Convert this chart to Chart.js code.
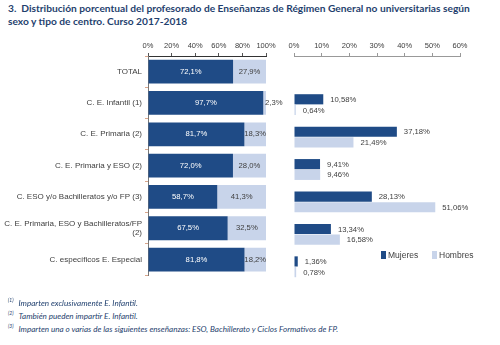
<!DOCTYPE html>
<html>
<head>
<meta charset="utf-8">
<script src="https://cdn.jsdelivr.net/npm/chart.js@4"></script>
<style>
  body { margin: 0; background: #fff; }
  #wrap { position: relative; width: 500px; height: 345px; overflow: hidden; }
  .title { position: absolute; left: 8px; top: 2px; font: bold 10.2px Lato, sans-serif; color: #1f3f6e; line-height: 13px; white-space: nowrap; }
  .note { position: absolute; left: 8px; font: italic 8.1px Lato, sans-serif; color: #1f3f6e; white-space: nowrap; }
  .note sup { font-size: 5px; margin-right: 5px; }
  .legend { position: absolute; top: 250px; font: 8.5px "Liberation Sans", Arial, sans-serif; color: #404040; }
  .sw { display: inline-block; width: 5px; height: 8px; margin-right: 2px; vertical-align: -1px; }
  canvas { position: absolute; }
</style>
</head>
<body>
<div id="wrap">
  <div class="title">3.&nbsp; Distribución porcentual del profesorado de Enseñanzas de Régimen General no universitarias según<br>sexo y tipo de centro. Curso 2017-2018</div>
  <canvas id="canvas-2" width="220" height="253" style="left:280px;top:30px;width:220px;height:253px"></canvas>
  <canvas id="canvas-1" width="292" height="253" style="left:0;top:30px;width:292px;height:253px"></canvas>
  <div class="legend" style="left:381px"><span class="sw" style="background:#1f4b86"></span>Mujeres</div>
  <div class="legend" style="left:432px"><span class="sw" style="background:#c8d4ea"></span>Hombres</div>
  <div class="note" style="top:297px"><sup>(1)</sup>Imparten exclusivamente E. Infantil.</div>
  <div class="note" style="top:310px"><sup>(2)</sup>También pueden impartir E. Infantil.</div>
  <div class="note" style="top:323px"><sup>(3)</sup>Imparten una o varias de las siguientes enseñanzas: ESO, Bachillerato y Ciclos Formativos de FP.</div>
</div>
<script>
const categories = [
  "TOTAL",
  "C. E. Infantil (1)",
  "C. E. Primaria (2)",
  "C. E. Primaria y ESO (2)",
  "C. ESO y/o Bachilleratos y/o FP (3)",
  ["C. E. Primaria, ESO y Bachilleratos/FP", "(2)"],
  "C. específicos E. Especial",
];
const mujeresPct = [72.1, 97.7, 81.7, 72.0, 58.7, 67.5, 81.8];
const hombresPct = [27.9, 2.3, 18.3, 28.0, 41.3, 32.5, 18.2];
const mujeresDist = [null, 10.58, 37.18, 9.41, 28.13, 13.34, 1.36];
const hombresDist = [null, 0.64, 21.49, 9.46, 51.06, 16.58, 0.78];

const dark = "#1f4b86";
const light = "#c8d4ea";
const textColor = "#404040";
const font = { family: "'Liberation Sans', Arial, sans-serif", size: 7.5 };
const catFont = { family: "'Liberation Sans', Arial, sans-serif", size: 8 };

const fmt = (v, d) => v.toFixed(d).replace(".", ",") + "%";

const stackLabels = {
  id: "stackLabels",
  afterDatasetsDraw(chart) {
    const ctx = chart.ctx;
    ctx.save();
    ctx.font = "7.7px 'Liberation Sans', Arial, sans-serif";
    ctx.textBaseline = "middle";
    chart.data.datasets.forEach((ds, i) => {
      chart.getDatasetMeta(i).data.forEach((bar, j) => {
        const v = ds.data[j];
        const left = Math.min(bar.x, bar.base);
        const right = Math.max(bar.x, bar.base);
        if (v < 5) {
          ctx.textAlign = "left";
          ctx.fillStyle = textColor;
          ctx.fillText(fmt(v, 1), right - 1, bar.y);
        } else {
          ctx.textAlign = "center";
          ctx.fillStyle = i === 0 ? "#ffffff" : textColor;
          ctx.fillText(fmt(v, 1), (left + right) / 2, bar.y);
        }
      });
    });
    ctx.restore();
  },
};

const endLabels = {
  id: "endLabels",
  afterDatasetsDraw(chart) {
    const ctx = chart.ctx;
    ctx.save();
    ctx.font = "7.7px 'Liberation Sans', Arial, sans-serif";
    ctx.textBaseline = "middle";
    ctx.textAlign = "left";
    ctx.fillStyle = textColor;
    chart.data.datasets.forEach((ds, i) => {
      chart.getDatasetMeta(i).data.forEach((bar, j) => {
        const v = ds.data[j];
        if (v == null) return;
        ctx.fillText(fmt(v, 2), bar.x + 7, bar.y + 0.5);
      });
    });
    ctx.restore();
  },
};

const ctx1 = document.querySelector("#canvas-1").getContext("2d");
const ctx2 = document.querySelector("#canvas-2").getContext("2d");

const leftChart = new Chart(ctx1, {
  type: "bar",
  data: {
    labels: categories,
    datasets: [
      { label: "Mujeres", data: mujeresPct, backgroundColor: dark },
      { label: "Hombres", data: hombresPct, backgroundColor: light },
    ],
  },
  options: {
    indexAxis: "y",
    responsive: false,
    animation: false,
    categoryPercentage: 1,
    barPercentage: 0.76,
    layout: { padding: { left: 0, right: 26, top: 0, bottom: 0 } },
    plugins: { legend: { display: false }, tooltip: { enabled: false } },
    scales: {
      x: {
        position: "top",
        stacked: true,
        min: 0,
        max: 100,
        ticks: { stepSize: 20, callback: (v) => v + "%", font: font, color: textColor, padding: 3, maxRotation: 0, minRotation: 0, autoSkip: false },
        grid: { drawOnChartArea: false, tickLength: 3, color: "#555" },
        border: { color: "#333" },
        afterFit: (s) => { s.height = 26; s.paddingLeft = 0; s.paddingRight = 0; },
      },
      y: {
        stacked: true,
        ticks: { font: catFont, color: textColor, padding: 3, autoSkip: false },
        grid: { drawOnChartArea: false, tickLength: 3, offset: true, color: "#d9a58a" },
        border: { color: "#777" },
        afterFit: (s) => { s.width = 148; },
      },
    },
  },
  plugins: [stackLabels],
});

const rightChart = new Chart(ctx2, {
  type: "bar",
  data: {
    labels: categories,
    datasets: [
      { label: "Mujeres", data: mujeresDist, backgroundColor: dark },
      { label: "Hombres", data: hombresDist, backgroundColor: light },
    ],
  },
  options: {
    indexAxis: "y",
    responsive: false,
    animation: false,
    categoryPercentage: 0.66,
    barPercentage: 0.95,
    layout: { padding: { left: 14, right: 40, top: 0, bottom: 0 } },
    plugins: { legend: { display: false }, tooltip: { enabled: false } },
    scales: {
      x: {
        position: "top",
        min: 0,
        max: 60,
        ticks: { stepSize: 10, callback: (v) => v + "%", font: font, color: textColor, padding: 3, maxRotation: 0, minRotation: 0, autoSkip: false },
        grid: { drawOnChartArea: false, tickLength: 3, color: "#999" },
        border: { color: "#999" },
        afterFit: (s) => { s.height = 26; s.paddingLeft = 0; s.paddingRight = 0; },
      },
      y: { display: false },
    },
  },
  plugins: [endLabels],
});
</script>
</body>
</html>
